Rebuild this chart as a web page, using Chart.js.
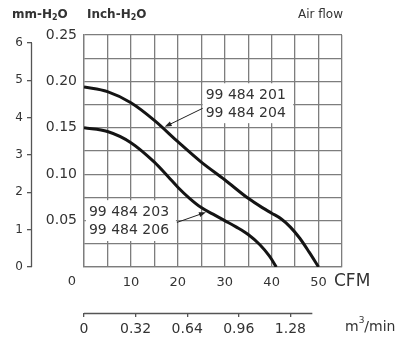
<!DOCTYPE html>
<html>
<head>
<meta charset="utf-8">
<script src="https://cdn.jsdelivr.net/npm/chart.js@4"></script>
<style>
html, body { margin: 0; padding: 0; background: #fff; }
</style>
</head>
<body>
<canvas id="grafico" width="396" height="341"></canvas>
<script>
// curva 99 484 201 / 204 (CFM -> Inch-H2O)
const cfmAlta = [0, 5, 10, 15, 20, 25, 30, 35, 38, 40, 42, 44, 46, 48, 50];
const presionAlta = [0.194, 0.189, 0.177, 0.158, 0.135, 0.113, 0.094, 0.074, 0.064, 0.058, 0.052, 0.043, 0.031, 0.016, 0];
// curva 99 484 203 / 206
const cfmBaja = [0, 5, 10, 15, 18, 20, 22.5, 25, 27.5, 30, 32.5, 35, 37.5, 39.5, 41];
const presionBaja = [0.150, 0.146, 0.134, 0.113, 0.097, 0.086, 0.074, 0.064, 0.057, 0.050, 0.043, 0.035, 0.024, 0.012, 0];
const etiquetasAlta = ['99 484 201', '99 484 204'];
const etiquetasBaja = ['99 484 203', '99 484 206'];
const ticksM3 = [0, 0.32, 0.64, 0.96, 1.28];
const ticksMm = [0, 1, 2, 3, 4, 5, 6];
const finM3 = 50 / 35.31;

const familia = "'DejaVu Sans', Verdana, sans-serif";
const gris = '#7d7d7d';
const colorTexto = '#333';
const grafico = document.getElementById('grafico').getContext('2d');

function escribirPartes(ctx, partes, x, y) {
    let cx = x;
    partes.forEach(p => {
        ctx.font = `${p.peso || 'normal'} ${p.tam}px ${familia}`;
        ctx.fillText(p.t, cx, y + (p.dy || 0));
        cx += ctx.measureText(p.t).width;
    });
}

function flecha(ctx, x1, y1, x2, y2) {
    const ang = Math.atan2(y2 - y1, x2 - x1);
    ctx.beginPath();
    ctx.moveTo(x1, y1);
    ctx.lineTo(x2 - 4 * Math.cos(ang), y2 - 4 * Math.sin(ang));
    ctx.stroke();
    ctx.beginPath();
    ctx.moveTo(x2, y2);
    ctx.lineTo(x2 - 7 * Math.cos(ang) + 2.5 * Math.sin(ang), y2 - 7 * Math.sin(ang) - 2.5 * Math.cos(ang));
    ctx.lineTo(x2 - 7 * Math.cos(ang) - 2.5 * Math.sin(ang), y2 - 7 * Math.sin(ang) + 2.5 * Math.cos(ang));
    ctx.closePath();
    ctx.fill();
}

const anotaciones = {
    id: 'anotaciones',
    beforeDatasetsDraw(chart) {
        const ctx = chart.ctx;
        const x = chart.scales.x, y = chart.scales.y;
        const cajas = [
            { x0: 25.3, x1: 44.6, y0: 0.198, y1: 0.155, textos: etiquetasAlta },
            { x0: 0.4, x1: 19.6, y0: 0.072, y1: 0.028, textos: etiquetasBaja }
        ];
        ctx.save();
        cajas.forEach(c => {
            const l = x.getPixelForValue(c.x0), r = x.getPixelForValue(c.x1);
            const t = y.getPixelForValue(c.y0), b = y.getPixelForValue(c.y1);
            ctx.fillStyle = '#fff';
            ctx.fillRect(l, t, r - l, b - t);
            ctx.fillStyle = colorTexto;
            ctx.font = `14px ${familia}`;
            ctx.textAlign = 'left';
            ctx.textBaseline = 'middle';
            ctx.fillText(c.textos[0], l + 3, t + 12);
            ctx.fillText(c.textos[1], l + 3, t + 30);
        });
        ctx.restore();
    },
    afterDraw(chart) {
        const ctx = chart.ctx;
        const x = chart.scales.x, y = chart.scales.y, mm = chart.scales.mm, m3 = chart.scales.m3;
        ctx.save();
        ctx.strokeStyle = '#222';
        ctx.fillStyle = '#222';
        ctx.lineWidth = 1;
        flecha(ctx, x.getPixelForValue(25.3), y.getPixelForValue(0.171), x.getPixelForValue(17.2), y.getPixelForValue(0.151));
        flecha(ctx, x.getPixelForValue(19.8), y.getPixelForValue(0.048), x.getPixelForValue(26), y.getPixelForValue(0.059));

        // lineas de los ejes mm y m3/min
        ctx.strokeStyle = '#555';
        ctx.lineWidth = 1.3;
        ctx.beginPath();
        ctx.moveTo(mm.right - 0.5, mm.getPixelForValue(6));
        ctx.lineTo(mm.right - 0.5, mm.getPixelForValue(0));
        ctx.moveTo(m3.getPixelForValue(0), m3.top + 0.5);
        ctx.lineTo(m3.getPixelForValue(finM3), m3.top + 0.5);
        ctx.stroke();

        ctx.fillStyle = colorTexto;
        ctx.textBaseline = 'middle';
        ctx.textAlign = 'left';
        escribirPartes(ctx, [{ t: 'mm-H', tam: 12, peso: 'bold' }, { t: '2', tam: 8, peso: 'bold', dy: 3 }, { t: 'O', tam: 12, peso: 'bold' }], 12, 15);
        escribirPartes(ctx, [{ t: 'Inch-H', tam: 12, peso: 'bold' }, { t: '2', tam: 8, peso: 'bold', dy: 3 }, { t: 'O', tam: 12, peso: 'bold' }], 87, 15);
        ctx.font = `12px ${familia}`;
        ctx.textAlign = 'right';
        ctx.fillText('Air flow', 343, 15);
        ctx.textAlign = 'center';
        ctx.font = `13px ${familia}`;
        ctx.fillText('0', x.getPixelForValue(0) - 12, x.top + 15);
        ctx.textAlign = 'left';
        ctx.font = `17px ${familia}`;
        ctx.fillText('CFM', 334, x.top + 15);
        escribirPartes(ctx, [{ t: 'm', tam: 14 }, { t: '3', tam: 9, dy: -6 }, { t: '/min', tam: 14 }], 345, 327);
        ctx.restore();
    }
};

new Chart(grafico, {
    type: 'line',
    data: {
        datasets: [{
            data: cfmAlta.map((v, i) => ({ x: v, y: presionAlta[i] })),
            borderColor: '#141414',
            borderWidth: 3,
            pointRadius: 0,
            cubicInterpolationMode: 'monotone',
            fill: false
        }, {
            data: cfmBaja.map((v, i) => ({ x: v, y: presionBaja[i] })),
            borderColor: '#141414',
            borderWidth: 3,
            pointRadius: 0,
            cubicInterpolationMode: 'monotone',
            fill: false
        }]
    },
    options: {
        responsive: false,
        animation: false,
        devicePixelRatio: 1,
        layout: { padding: { left: 0, top: 35, right: 54, bottom: 0 } },
        plugins: { legend: { display: false }, tooltip: { enabled: false } },
        scales: {
            x: {
                type: 'linear', position: 'bottom', min: 0, max: 55, weight: 0,
                ticks: {
                    stepSize: 5, autoSkip: false, maxRotation: 0, padding: 8, color: colorTexto,
                    font: { family: familia, size: 13 },
                    callback: v => (v > 0 && v % 10 === 0) ? String(v) : ''
                },
                grid: { color: gris, lineWidth: 1.3, drawTicks: false },
                border: { color: gris, width: 1.3 },
                afterFit: s => { s.height = 46; }
            },
            m3: {
                type: 'linear', position: 'bottom', min: 0, max: 1.6, weight: 10,
                afterBuildTicks: s => { s.ticks = ticksM3.map(v => ({ value: v })); },
                ticks: { autoSkip: false, maxRotation: 0, padding: 4, color: colorTexto, font: { family: familia, size: 14 }, callback: v => String(v) },
                grid: { drawOnChartArea: false, drawTicks: true, tickLength: 4, color: '#555', lineWidth: 1.3 },
                border: { display: false },
                afterFit: s => { s.height = 28; }
            },
            y: {
                type: 'linear', position: 'left', min: 0, max: 0.25, weight: 0,
                ticks: {
                    stepSize: 0.025, autoSkip: false, padding: 7, color: colorTexto, font: { family: familia, size: 14 },
                    callback: v => {
                        const k = Math.round(v * 1000);
                        return (k > 0 && k % 50 === 0) ? (k / 1000).toFixed(2) : '';
                    }
                },
                grid: { color: gris, lineWidth: 1.3, drawTicks: false },
                border: { color: gris, width: 1.3 },
                afterFit: s => { s.width = 52; }
            },
            mm: {
                type: 'linear', position: 'left', min: 0, max: 6.214, weight: 10,
                afterBuildTicks: s => { s.ticks = ticksMm.map(v => ({ value: v })); },
                ticks: { autoSkip: false, padding: 4, color: colorTexto, font: { family: familia, size: 12 }, callback: v => String(v) },
                grid: { drawOnChartArea: false, drawTicks: true, tickLength: 5, color: '#555', lineWidth: 1.3 },
                border: { display: false },
                afterFit: s => { s.width = 32; }
            }
        }
    },
    plugins: [anotaciones]
});
</script>
</body>
</html>
